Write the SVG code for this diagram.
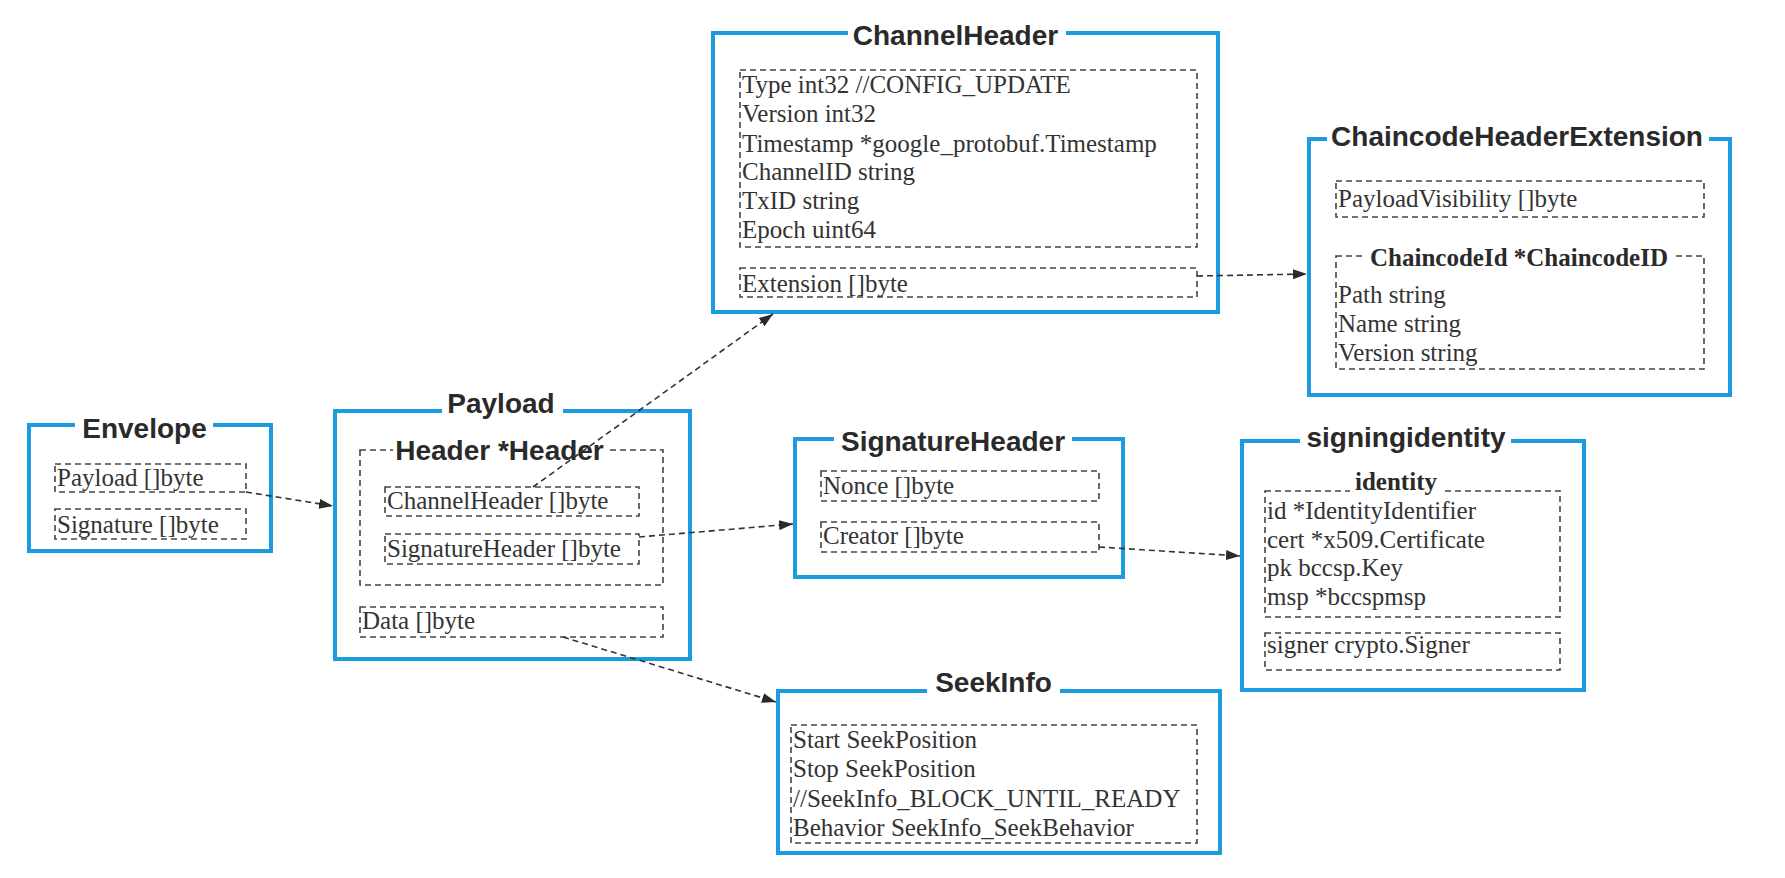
<svg xmlns="http://www.w3.org/2000/svg" width="1785" height="878" viewBox="0 0 1785 878">
<defs>
<style>
.node{fill:#fff;stroke:#1b9be0;stroke-width:4}
.gap{fill:#fff;stroke:none}
.field{fill:none;stroke:#444;stroke-width:1.6;stroke-dasharray:6 4}
.title{font-family:"Liberation Sans",Arial,sans-serif;font-weight:bold;font-size:28px;fill:#2a2a2a;text-anchor:middle}
.sub{font-family:"Liberation Serif","Times New Roman",serif;font-weight:bold;font-size:25px;fill:#2a2a2a;text-anchor:middle}
.txt{font-family:"Liberation Serif","Times New Roman",serif;font-size:25px;fill:#333}
.conn{fill:none;stroke:#333;stroke-width:1.6;stroke-dasharray:6 4}
</style>
<marker id="arr" markerUnits="userSpaceOnUse" markerWidth="15" markerHeight="10" refX="14" refY="5" orient="auto">
<path d="M0,0 L14,5 L0,10 z" fill="#2a2a2a"/>
</marker>
</defs>
<rect width="1785" height="878" fill="#fff"/>

<g id="envelope">
<rect class="node" x="29" y="425" width="242" height="126"/>
<rect class="gap" x="75" y="418" width="138" height="14"/>
<text class="title" x="144.5" y="438">Envelope</text>
<rect class="field" x="55" y="464" width="191" height="28"/>
<text class="txt" x="57" y="486">Payload []byte</text>
<rect class="field" x="55" y="509" width="191" height="30"/>
<text class="txt" x="57" y="533">Signature []byte</text>
</g>

<g id="payload">
<rect class="node" x="335" y="411" width="355" height="248"/>
<rect class="gap" x="442" y="404" width="121" height="14"/>
<text class="title" x="501" y="413">Payload</text>
<rect class="field" x="360" y="450" width="303" height="135"/>
<rect class="gap" x="393" y="444" width="213" height="12"/>
<text class="title" x="499.5" y="460">Header *Header</text>
<rect class="field" x="385" y="487" width="254" height="29"/>
<text class="txt" x="387" y="509">ChannelHeader []byte</text>
<rect class="field" x="385" y="534" width="254" height="30"/>
<text class="txt" x="387" y="557">SignatureHeader []byte</text>
<rect class="field" x="360" y="607" width="303" height="30"/>
<text class="txt" x="362" y="629">Data []byte</text>
</g>

<g id="channelheader">
<rect class="node" x="713" y="33" width="505" height="279"/>
<rect class="gap" x="848" y="26" width="218" height="14"/>
<text class="title" x="955.5" y="45">ChannelHeader</text>
<rect class="field" x="740" y="70" width="457" height="177"/>
<text class="txt" x="742" y="93">Type int32 //CONFIG_UPDATE</text>
<text class="txt" x="742" y="122">Version int32</text>
<text class="txt" x="742" y="152">Timestamp *google_protobuf.Timestamp</text>
<text class="txt" x="742" y="180">ChannelID string</text>
<text class="txt" x="742" y="209">TxID string</text>
<text class="txt" x="742" y="238">Epoch uint64</text>
<rect class="field" x="740" y="268" width="457" height="29"/>
<text class="txt" x="742" y="292">Extension []byte</text>
</g>

<g id="chaincodeheaderextension">
<rect class="node" x="1309" y="139" width="421" height="256"/>
<rect class="gap" x="1327" y="132" width="382" height="14"/>
<text class="title" x="1517" y="146">ChaincodeHeaderExtension</text>
<rect class="field" x="1336" y="181" width="368" height="36"/>
<text class="txt" x="1338" y="207">PayloadVisibility []byte</text>
<rect class="field" x="1336" y="256" width="368" height="113"/>
<rect class="gap" x="1362" y="250" width="312" height="12"/>
<text class="sub" x="1519" y="266">ChaincodeId *ChaincodeID</text>
<text class="txt" x="1338" y="303">Path string</text>
<text class="txt" x="1338" y="332">Name string</text>
<text class="txt" x="1338" y="361">Version string</text>
</g>

<g id="signatureheader">
<rect class="node" x="795" y="439" width="328" height="138"/>
<rect class="gap" x="834" y="432" width="238" height="14"/>
<text class="title" x="953" y="451">SignatureHeader</text>
<rect class="field" x="821" y="471" width="278" height="30"/>
<text class="txt" x="823" y="494">Nonce []byte</text>
<rect class="field" x="821" y="522" width="278" height="30"/>
<text class="txt" x="823" y="544">Creator []byte</text>
</g>

<g id="signingidentity">
<rect class="node" x="1242" y="441" width="342" height="249"/>
<rect class="gap" x="1300" y="434" width="211" height="14"/>
<text class="title" x="1406" y="447">signingidentity</text>
<rect class="field" x="1265" y="491" width="295" height="126"/>
<rect class="gap" x="1350" y="485" width="92" height="12"/>
<text class="sub" x="1396" y="490">identity</text>
<text class="txt" x="1267" y="519">id *IdentityIdentifier</text>
<text class="txt" x="1267" y="548">cert *x509.Certificate</text>
<text class="txt" x="1267" y="576">pk bccsp.Key</text>
<text class="txt" x="1267" y="605">msp *bccspmsp</text>
<rect class="field" x="1265" y="633" width="295" height="37"/>
<text class="txt" x="1267" y="653">signer crypto.Signer</text>
</g>

<g id="seekinfo">
<rect class="node" x="778" y="691" width="442" height="162"/>
<rect class="gap" x="927" y="684" width="133" height="14"/>
<text class="title" x="993.5" y="692">SeekInfo</text>
<rect class="field" x="791" y="725" width="406" height="118"/>
<text class="txt" x="793" y="748">Start SeekPosition</text>
<text class="txt" x="793" y="777">Stop SeekPosition</text>
<text class="txt" x="793" y="807">//SeekInfo_BLOCK_UNTIL_READY</text>
<text class="txt" x="793" y="836">Behavior SeekInfo_SeekBehavior</text>
</g>

<g id="connectors">
<path class="conn" d="M246,492 L333,506" marker-end="url(#arr)"/>
<path class="conn" d="M533,487 L773,314" marker-end="url(#arr)"/>
<path class="conn" d="M1197,276 L1307,274" marker-end="url(#arr)"/>
<path class="conn" d="M639,537 L793,524" marker-end="url(#arr)"/>
<path class="conn" d="M1099,547 L1240,556" marker-end="url(#arr)"/>
<path class="conn" d="M563,637 L776,702" marker-end="url(#arr)"/>
</g>
</svg>
